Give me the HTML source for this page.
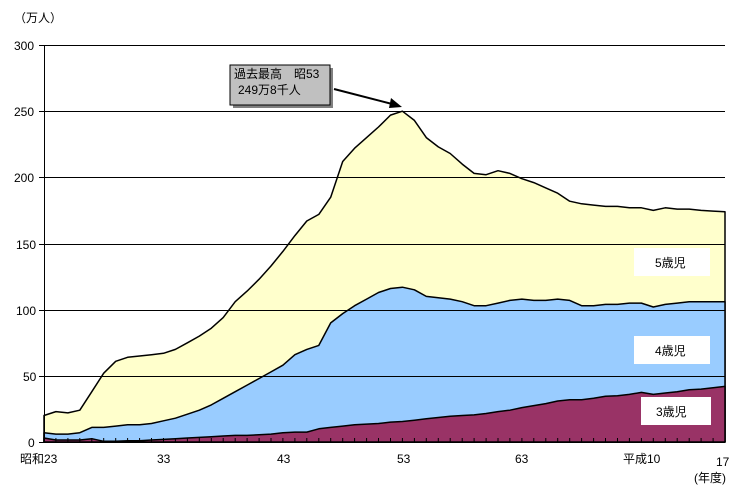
<!DOCTYPE html><html><head><meta charset="utf-8"><style>
body{margin:0;background:#fff;font-family:"Liberation Sans","Noto Sans CJK JP",sans-serif}
svg text{font-family:"Liberation Sans","Noto Sans CJK JP",sans-serif;font-size:12px}
</style></head><body>
<svg id="s" width="751" height="498" xmlns="http://www.w3.org/2000/svg">
<rect width="751" height="498" fill="#fff"/>
<g id="areas"></g>
<g stroke="#000" stroke-width="1">
<line x1="44" y1="45.5" x2="725" y2="45.5"/><line x1="44" y1="111.5" x2="725" y2="111.5"/>
<line x1="44" y1="177.5" x2="725" y2="177.5"/><line x1="44" y1="244.5" x2="725" y2="244.5"/>
<line x1="44" y1="310.5" x2="725" y2="310.5"/><line x1="44" y1="376.5" x2="725" y2="376.5"/>
<line x1="44.5" y1="45" x2="44.5" y2="442"/><line x1="44" y1="442.5" x2="725" y2="442.5"/>
<line x1="39" y1="45.5" x2="44" y2="45.5"/><line x1="39" y1="111.5" x2="44" y2="111.5"/><line x1="39" y1="177.5" x2="44" y2="177.5"/><line x1="39" y1="244.5" x2="44" y2="244.5"/><line x1="39" y1="310.5" x2="44" y2="310.5"/><line x1="39" y1="376.5" x2="44" y2="376.5"/><line x1="39" y1="442.5" x2="44" y2="442.5"/>
</g>
<g id="ticks" stroke="#000"></g>
<g font-size="12">
<text x="14" y="22">（万人）</text>
<text x="14" y="50">300</text><text x="14" y="116">250</text><text x="14" y="182">200</text><text x="16" y="249">150</text><text x="16" y="315">100</text><text x="23" y="381">50</text><text x="28" y="447">0</text>
<text x="20" y="463">昭和23</text><text x="157" y="463">33</text><text x="277" y="463">43</text><text x="397" y="463">53</text><text x="515" y="463">63</text><text x="623" y="463">平成10</text><text x="716" y="466">17</text><text x="694" y="482">(年度)</text>
</g>
<rect x="233" y="68" width="100" height="40" fill="#808080"/>
<rect x="230" y="65" width="100" height="40" fill="#c0c0c0" stroke="#000"/>
<text x="234" y="78">過去最高　昭53</text><text x="238" y="94">249万8千人</text>
<line x1="334" y1="89" x2="396" y2="105" stroke="#000" stroke-width="2"/>
<polygon points="402,107 391,98 389,108" fill="#000"/>
<rect x="634" y="248" width="76" height="28" fill="#fff"/><text x="655" y="267">5歳児</text>
<rect x="634" y="336" width="76" height="28" fill="#fff"/><text x="655" y="355">4歳児</text>
<rect x="641" y="397" width="70" height="28" fill="#fff"/><text x="656" y="416">3歳児</text>
</svg>
<script>
var T=[20,23,22,24,38,52,61,64,65,66,67,70,75,80,86,94,106,114,123,133,144,156,167,172,185,212,222,230,238,247,250,243,230,223,218,210,203,202,205,203,199,196,192,188,182,180,179,178,178,177,177,175,177,176,176,175,174.5,174];
var B=[7,6,6,7,11,11,12,13,13,14,16,18,21,24,28,33,38,43,48,53,58,66,70,73,90,97,103,108,113,116,117,115,110,109,108,106,103,103,105,107,108,107,107,108,107,103,103,104,104,105,105,102,104,105,106,106,106,106];
var M=[3,1.5,1.5,1.5,2.5,0.5,0.5,1,1,1.5,2,2.5,3,3.5,4,4.5,5,5,5.5,6,7,7.5,7.5,10,11,12,13,13.5,14,15,15.5,16.5,17.5,18.5,19.5,20,20.5,21.5,23,24,26,27.5,29,31,32,32,33,34.5,35,36,37.5,36,37,38,39.5,40,41,42];
var n=Math.min(T.length,B.length,M.length),dx=681/(n-1);
function X(i){return 44+i*dx}function Y(v){return 442-v*397/300}
function area(a,c){var d="M44,442";for(var i=0;i<n;i++)d+=" L"+X(i).toFixed(1)+","+Y(a[i]).toFixed(1);d+=" L"+X(n-1)+",442Z";
var p=document.createElementNS("http://www.w3.org/2000/svg","path");p.setAttribute("d",d);p.setAttribute("fill",c);p.setAttribute("stroke","#000");p.setAttribute("stroke-width","1.5");p.setAttribute("stroke-linejoin","round");document.getElementById("areas").appendChild(p);}
area(T,"#ffffcc");area(B,"#99ccff");area(M,"#993366");
var tk=document.getElementById("ticks");
for(var i=0;i<n;i++){var l=document.createElementNS("http://www.w3.org/2000/svg","line");var x=X(i).toFixed(1);l.setAttribute("x1",x);l.setAttribute("x2",x);l.setAttribute("y1",438);l.setAttribute("y2",442);tk.appendChild(l);}
</script>
</body></html>
